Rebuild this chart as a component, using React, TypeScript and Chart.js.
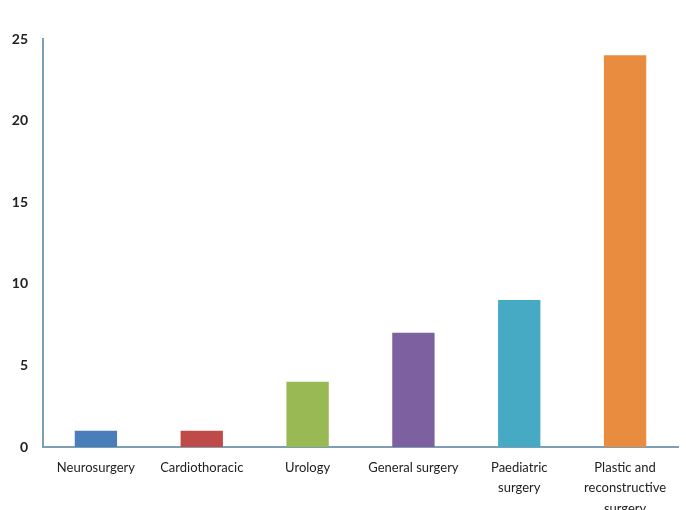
import React, { useEffect, useRef } from "react";
import { Chart, registerables } from "chart.js";

Chart.register(...registerables);

const categories: (string | string[])[] = [
  "Neurosurgery",
  "Cardiothoracic",
  "Urology",
  "General surgery",
  ["Paediatric", "surgery"],
  ["Plastic and", "reconstructive", "surgery"],
];
const values = [1, 1, 4, 7, 9, 24];
const barColors = ["#4a7ebb", "#be4b48", "#98b954", "#7d60a0", "#46aac5", "#e98c3f"];
const yTicks = [0, 5, 10, 15, 20, 25];

export default function App() {
  const ref = useRef<HTMLCanvasElement | null>(null);
  useEffect(() => {
    document.body.style.margin = "0";
    document.body.style.overflow = "hidden";
    const ctx = ref.current!;
    const chart = new Chart(ctx, {
      type: "bar",
      data: {
        labels: categories as any,
        datasets: [
          {
            data: values,
            backgroundColor: barColors,
            borderWidth: 0,
            barPercentage: 0.4,
            categoryPercentage: 1,
          },
        ],
      },
      options: {
        animation: false,
        responsive: false,
        devicePixelRatio: 1,
        layout: { padding: { top: 39, right: 8, left: 0, bottom: 0 } },
        plugins: { legend: { display: false }, tooltip: { enabled: false } },
        scales: {
          x: {
            grid: { display: false, drawTicks: false },
            border: { display: true, color: "#7c9fb5", width: 2 },
            ticks: {
              color: "#222222",
              font: { family: "Lato, 'Liberation Sans', sans-serif", size: 13, lineHeight: 1.6 },
              padding: 10,
              maxRotation: 0,
              autoSkip: false,
            },
            afterFit: (scale: any) => {
              scale.height = 63;
            },
          },
          y: {
            min: 0,
            max: 25,
            afterBuildTicks: (scale: any) => {
              scale.ticks = yTicks.map((v) => ({ value: v }));
            },
            grid: { display: false, drawTicks: false },
            border: { display: true, color: "#7c9fb5", width: 2 },
            ticks: {
              color: "#222222",
              font: { family: "Lato, 'Liberation Sans', sans-serif", size: 14, weight: "bold" },
              padding: 15,
            },
            afterFit: (scale: any) => {
              scale.width = 43;
            },
          },
        },
      },
    });
    return () => chart.destroy();
  }, []);
  return (
    <div style={{ width: 686, height: 510, overflow: "hidden", background: "#ffffff" }}>
      <canvas ref={ref} width={686} height={510} />
    </div>
  );
}
